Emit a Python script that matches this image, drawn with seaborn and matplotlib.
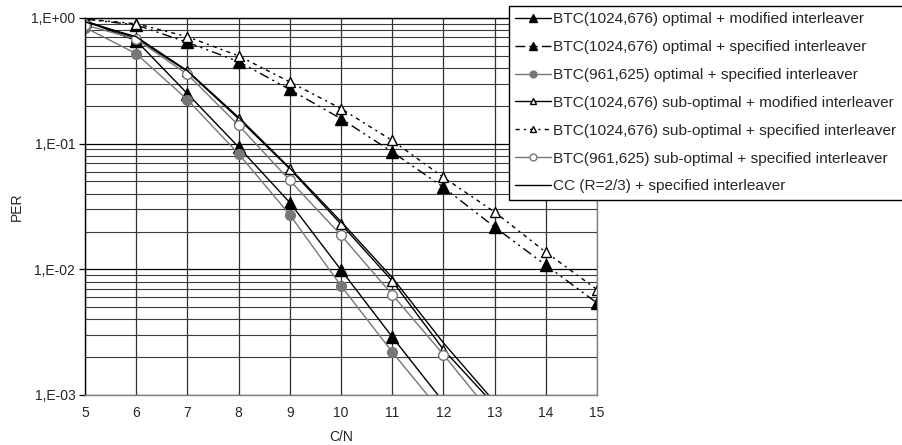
import numpy as np
import seaborn as sns
import matplotlib.pyplot as plt
from matplotlib.ticker import FixedLocator, FixedFormatter, LogLocator, NullFormatter

sns.set_style('white')
plt.rcParams['font.family'] = ['Liberation Sans', 'DejaVu Sans']

# C/N values
cn = [5, 6, 7, 8, 9, 10, 11, 12, 13, 14, 15]

# PER curves (last point of the steep ones is below 1E-03)
btc1024_opt_mod = [0.95, 0.66, 0.25, 0.094, 0.034, 0.0099, 0.0029, 0.00088]
btc1024_opt_spec = [0.98, 0.88, 0.64, 0.45, 0.27, 0.158, 0.086, 0.045, 0.0217, 0.0108, 0.0054]
btc961_opt_spec = [0.84, 0.52, 0.224, 0.083, 0.0272, 0.0074, 0.0022, 0.0007]
btc1024_sub_mod = [0.95, 0.69, 0.376, 0.158, 0.063, 0.0229, 0.0081, 0.0023, 0.00083]
btc1024_sub_spec = [0.98, 0.9, 0.71, 0.50, 0.31, 0.19, 0.106, 0.054, 0.0286, 0.0137, 0.0069]
btc961_sub_spec = [0.88, 0.68, 0.356, 0.14, 0.051, 0.0187, 0.0063, 0.0021, 0.00066]
cc_spec = [0.93, 0.71, 0.38, 0.162, 0.064, 0.024, 0.0086, 0.0026, 0.00088]

labels = [
    'BTC(1024,676) optimal + modified interleaver',
    'BTC(1024,676) optimal + specified interleaver',
    'BTC(961,625) optimal + specified interleaver',
    'BTC(1024,676) sub-optimal + modified interleaver',
    'BTC(1024,676) sub-optimal + specified interleaver',
    'BTC(961,625) sub-optimal + specified interleaver',
    'CC (R=2/3) + specified interleaver',
]

ytick_vals = [1e-3, 1e-2, 1e-1, 1]
ytick_labels = ['1,E-03', '1,E-02', '1,E-01', '1,E+00']

fig = plt.figure(figsize=(9.03, 4.45), dpi=100)
ax = fig.add_axes([85 / 903, 1 - 395 / 445, 512 / 903, 377 / 445])

dash1 = (0, (7, 3, 1.5, 3, 1.5, 3))
dash2 = (0, (3, 3, 1.5, 3))

styles = [
    (btc1024_opt_mod, dict(color='black', lw=1.0, ls='-', marker='^', ms=8, mfc='black', mec='black')),
    (btc1024_opt_spec, dict(color='black', lw=1.0, ls=dash1, marker='^', ms=8, mfc='black', mec='black')),
    (btc961_opt_spec, dict(color='#777777', lw=1.0, ls='-', marker='o', ms=7, mfc='#777777', mec='#777777')),
    (btc1024_sub_mod, dict(color='black', lw=1.0, ls='-', marker='^', ms=7, mfc='white', mec='black')),
    (btc1024_sub_spec, dict(color='black', lw=1.0, ls=dash2, marker='^', ms=7, mfc='white', mec='black')),
    (btc961_sub_spec, dict(color='#777777', lw=1.0, ls='-', marker='o', ms=7, mfc='white', mec='#777777')),
    (cc_spec, dict(color='black', lw=1.0, ls='-', marker=None)),
]

for (vals, st), lab in zip(styles, labels):
    sns.lineplot(x=cn[:len(vals)], y=vals, ax=ax, label=lab, markeredgewidth=1.0, **st)

ax.set_yscale('log')
ax.set_xlim(5, 15)
ax.set_ylim(1e-3, 1)

ax.xaxis.set_major_locator(FixedLocator(cn))
ax.yaxis.set_major_locator(FixedLocator(ytick_vals))
ax.yaxis.set_major_formatter(FixedFormatter(ytick_labels))
ax.yaxis.set_minor_locator(LogLocator(base=10, subs=np.arange(2, 10)))
ax.yaxis.set_minor_formatter(NullFormatter())

ax.grid(True, which='major', axis='y', color='black', lw=0.9)
ax.grid(True, which='minor', axis='y', color='#3a3a3a', lw=0.8)
ax.grid(True, which='major', axis='x', color='#303030', lw=0.9)

ax.tick_params(axis='y', which='major', direction='out', length=4, width=0.9,
               color='black', left=True, labelsize=10, pad=3)
ax.tick_params(axis='y', which='minor', length=0)
ax.tick_params(axis='x', length=0, labelsize=10, pad=8)

for side in ['left', 'top']:
    ax.spines[side].set_color('black')
for side in ['right', 'bottom']:
    ax.spines[side].set_color('#808080')
for sp in ax.spines.values():
    sp.set_linewidth(1.0)

ax.set_xlabel('C/N', fontsize=10, labelpad=7)
ax.set_ylabel('PER', fontsize=10, labelpad=5)

ax.legend(loc='upper left', bbox_to_anchor=(509 / 903, 1 - 6 / 445),
          bbox_transform=fig.transFigure, fontsize=11.1, frameon=True,
          fancybox=False, edgecolor='black', framealpha=1, borderaxespad=0,
          handlelength=2.35, handletextpad=0.12, labelspacing=0.9,
          borderpad=0.4, markerscale=0.7)
ax.get_legend().get_frame().set_linewidth(1.0)

fig.savefig('out.png', dpi=100)
